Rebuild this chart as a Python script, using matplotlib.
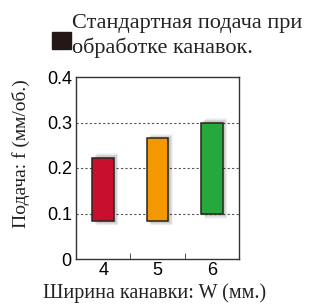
import matplotlib.pyplot as plt
import numpy as np

# --- Data ---
widths = [4, 5, 6]
feed_low = [0.083, 0.083, 0.098]
feed_high = [0.223, 0.265, 0.300]
colors = ["#C8102E", "#F39800", "#25A83C"]
yticks = [0, 0.1, 0.2, 0.3, 0.4]
ytick_labels = ["0", "0.1", "0.2", "0.3", "0.4"]

serif = "Liberation Serif"
sans = "Liberation Sans"

fig = plt.figure(figsize=(3.3, 3.06), dpi=100)
ax = fig.add_axes([76 / 330, 1 - 259 / 306, 163 / 330, 182 / 306])

x = np.array(widths)
heights = np.array(feed_high) - np.array(feed_low)
bw = 0.4

# soft shadow around each bar, heavier to the right
for k in range(7):
    off = 0.01 + k * 0.012
    grow = k * 0.0015
    ax.bar(x + off, heights + 2 * grow, bw, bottom=np.array(feed_low) - grow,
           color="black", alpha=0.045, linewidth=0, zorder=1)

ax.bar(x, heights, bw, bottom=feed_low, color=colors,
       edgecolor="#2a2420", linewidth=1.1, zorder=3)

for y in [0.1, 0.2, 0.3]:
    ax.axhline(y, color="#555555", linestyle=(0, (2, 2)), linewidth=0.8, zorder=0)

ax.set_xlim(3.5, 6.5)
ax.set_ylim(0, 0.4)
ax.set_xticks(widths)
ax.set_xticklabels([str(w) for w in widths], fontfamily=sans, fontsize=13)
ax.set_xticks([4.5, 5.5], minor=True)
ax.tick_params(axis="x", which="major", length=0, pad=2)
ax.tick_params(axis="x", which="minor", direction="in", length=4, color="#333333")
ax.set_yticks(yticks)
ax.set_yticklabels(ytick_labels, fontfamily=sans, fontsize=13)
ax.tick_params(axis="y", length=0, pad=3)
for s in ax.spines.values():
    s.set_color("#333333")
    s.set_linewidth(1.0)

ax.set_ylabel("Подача: f (мм/об.)", fontfamily=serif, fontsize=14,
              color="#222222")
ax.yaxis.set_label_coords(-0.285, 0.58)
fig.text(155 / 330, 1 - 293 / 306, "Ширина канавки: W (мм.)", fontfamily=serif,
         fontsize=14.5, ha="center", va="center", color="#222222")

# legend
fig.patches.append(plt.Rectangle((52 / 330, 1 - 49 / 306), 19 / 330, 17 / 306,
                                 transform=fig.transFigure, color="#231815"))
fig.text(72 / 330, 1 - 28 / 306, "Стандартная подача при", fontfamily=serif,
         fontsize=16, ha="left", va="baseline", color="#222222")
fig.text(72 / 330, 1 - 53 / 306, "обработке канавок.", fontfamily=serif,
         fontsize=16, ha="left", va="baseline", color="#222222")

fig.savefig("out.png", dpi=100)
